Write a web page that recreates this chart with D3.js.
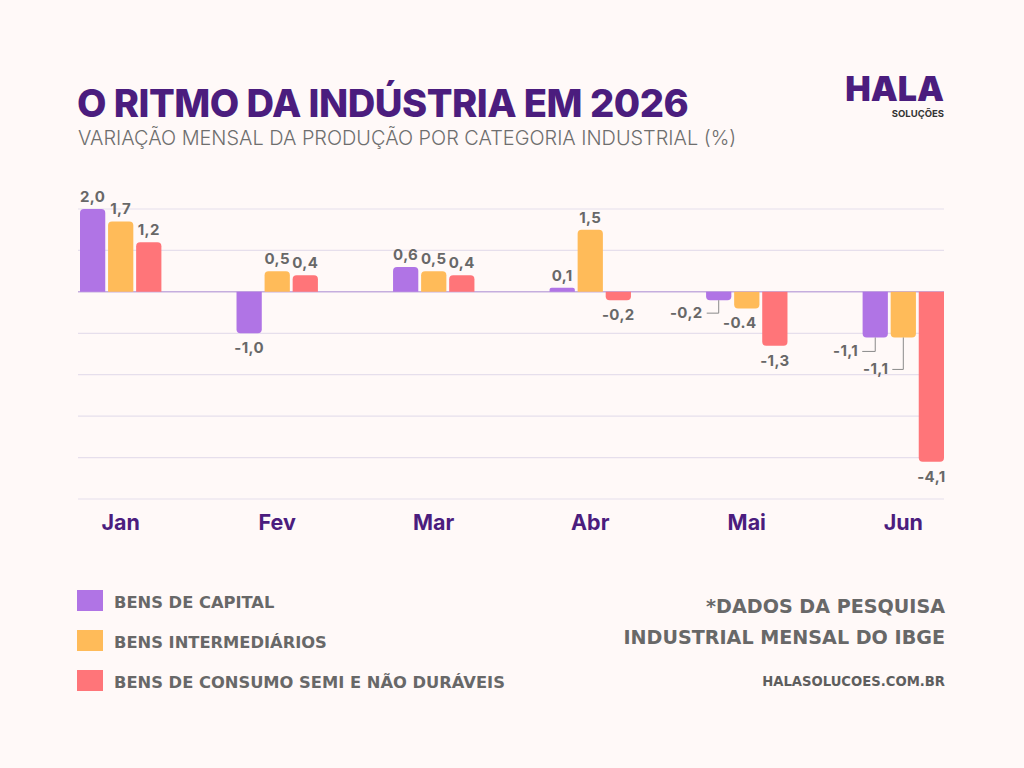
<!DOCTYPE html>
<html>
<head>
<meta charset="utf-8">
<script src="https://cdn.jsdelivr.net/npm/d3@7"></script>
<style>
  html, body { margin: 0; padding: 0; background: #fff9f8; }
  svg { display: block; }
</style>
</head>
<body>
<svg width="1024" height="768"></svg>
<script>
// data
const months = ['Jan', 'Fev', 'Mar', 'Abr', 'Mai', 'Jun'];
const seriesNames = ['BENS DE CAPITAL', 'BENS INTERMEDIÁRIOS', 'BENS DE CONSUMO SEMI E NÃO DURÁVEIS'];
const capital = [2.0, -1.0, 0.6, 0.1, -0.2, -1.1];
const intermediarios = [1.7, 0.5, 0.5, 1.5, -0.4, -1.1];
const consumo = [1.2, 0.4, 0.4, -0.2, -1.3, -4.1];
const capitalLabels = ['2,0', '-1,0', '0,6', '0,1', '-0,2', '-1,1'];
const intermediariosLabels = ['1,7', '0,5', '0,5', '1,5', '-0.4', '-1,1'];
const consumoLabels = ['1,2', '0,4', '0,4', '-0,2', '-1,3', '-4,1'];
const gridTicks = [2, 1, 0, -1, -2, -3, -4, -5];

const colors = ['#b074e5', '#ffbb59', '#ff7579'];
const purpleDark = '#4b1d7e';
const grey = '#686868';

const series = [capital, intermediarios, consumo];
const seriesLabels = [capitalLabels, intermediariosLabels, consumoLabels];

// labels that are pulled out with a small elbow line
const callouts = {
  'Mai-0': { drop: 13, arm: 12 },
  'Jun-0': { drop: 14, arm: 13 },
  'Jun-1': { drop: 32, arm: 11 }
};
const nudges = { 'Mai-1': -7 };

const svg = d3.select('svg');
const wideFont = "'DejaVu Sans', Verdana, sans-serif";

svg.append('rect').attr('width', 1024).attr('height', 768).attr('fill', '#fff9f8');

// scale font size so the text spans a given width
const fitWidth = (sel, w) => {
  const fs = parseFloat(sel.attr('font-size'));
  const len = sel.node().getComputedTextLength();
  sel.attr('font-size', fs * w / len);
  return fs * w / len;
};

// header
const title = svg.append('text')
  .attr('x', 77).attr('y', 117)
  .attr('font-family', "Inter, 'Open Sans', sans-serif")
  .attr('font-weight', 800)
  .attr('font-size', 40)
  .attr('letter-spacing', -0.5)
  .attr('fill', purpleDark)
  .text('O RITMO DA INDÚSTRIA EM 2026');
fitWidth(title, 612);

const subtitle = svg.append('text')
  .attr('x', 78).attr('y', 145)
  .attr('font-family', "Inter, 'Open Sans', sans-serif")
  .attr('font-weight', 300)
  .attr('font-size', 20)
  .attr('fill', '#6e6e6e')
  .text('VARIAÇÃO MENSAL DA PRODUÇÃO POR CATEGORIA INDUSTRIAL (%)');
fitWidth(subtitle, 659);

// logo
svg.append('text')
  .attr('x', 944).attr('y', 101)
  .attr('text-anchor', 'end')
  .attr('font-family', "Inter, sans-serif")
  .attr('font-weight', 900)
  .attr('font-size', 34)
  .attr('fill', purpleDark)
  .text('HALA');
svg.append('text')
  .attr('x', 944).attr('y', 117)
  .attr('text-anchor', 'end')
  .attr('font-family', "Inter, sans-serif")
  .attr('font-weight', 700)
  .attr('font-size', 9.5)
  .attr('fill', '#333')
  .text('SOLUÇÕES');

// chart
const xScale = d3.scaleBand().domain(months).range([80, 944]).paddingInner(0.48).paddingOuter(0);
const xInner = d3.scaleBand().domain(d3.range(3)).range([0, xScale.bandwidth()]).paddingInner(0.1);
const yScale = d3.scaleLinear().domain([-5, 2]).range([499, 209]);

const grid = svg.append('g').attr('class', 'grid');
grid.selectAll('line')
  .data(gridTicks.filter(d => d !== 0))
  .join('line')
  .attr('x1', 78).attr('x2', 944)
  .attr('y1', d => yScale(d)).attr('y2', d => yScale(d))
  .attr('stroke', '#e6dfec')
  .attr('stroke-width', 1.2);

grid.append('line')
  .attr('x1', 78).attr('x2', 944)
  .attr('y1', yScale(0)).attr('y2', yScale(0))
  .attr('stroke', '#c5aede')
  .attr('stroke-width', 1.5);

// rounded end only on the far side of the bar
const barPath = (x, w, y0, y1) => {
  const h = Math.abs(y1 - y0);
  const r = Math.min(4, h / 2, w / 2);
  if (y1 < y0) {
    return `M${x},${y0}V${y1 + r}Q${x},${y1} ${x + r},${y1}H${x + w - r}Q${x + w},${y1} ${x + w},${y1 + r}V${y0}Z`;
  }
  return `M${x},${y0}V${y1 - r}Q${x},${y1} ${x + r},${y1}H${x + w - r}Q${x + w},${y1} ${x + w},${y1 - r}V${y0}Z`;
};

const cells = [];
months.forEach((m, i) => {
  series.forEach((s, j) => {
    cells.push({ month: m, idx: i, k: j, value: s[i], label: seriesLabels[j][i] });
  });
});

const barsG = svg.append('g').attr('class', 'bars');
barsG.selectAll('path')
  .data(cells)
  .join('path')
  .attr('d', d => barPath(xScale(d.month) + xInner(d.k), xInner.bandwidth(), yScale(0), yScale(d.value)))
  .attr('fill', d => colors[d.k]);

const labelsG = svg.append('g').attr('class', 'value-labels')
  .attr('font-family', "Inter, 'Open Sans', sans-serif")
  .attr('font-weight', 700)
  .attr('font-size', 15)
  .attr('letter-spacing', 0.4)
  .attr('fill', grey);

cells.forEach(d => {
  const key = `${d.month}-${d.k}`;
  const cx = xScale(d.month) + xInner(d.k) + xInner.bandwidth() / 2;
  const yEnd = yScale(d.value);
  const c = callouts[key];
  if (c) {
    const elbowY = yEnd + c.drop;
    labelsG.append('path')
      .attr('d', `M${cx},${yEnd}V${elbowY}H${cx - c.arm}`)
      .attr('fill', 'none')
      .attr('stroke', '#8a8a8a')
      .attr('stroke-width', 1);
    labelsG.append('text')
      .attr('x', cx - c.arm - 4)
      .attr('y', elbowY + 5)
      .attr('text-anchor', 'end')
      .text(d.label);
  } else {
    labelsG.append('text')
      .attr('x', cx + (nudges[key] || 0))
      .attr('y', d.value >= 0 ? yEnd - 7 : yEnd + 20)
      .attr('text-anchor', 'middle')
      .text(d.label);
  }
});

// month axis
svg.append('g').attr('class', 'x-axis')
  .selectAll('text')
  .data(months)
  .join('text')
  .attr('x', d => xScale(d) + xScale.bandwidth() / 2)
  .attr('y', 530)
  .attr('text-anchor', 'middle')
  .attr('font-family', "Inter, 'Open Sans', sans-serif")
  .attr('font-weight', 700)
  .attr('font-size', 21.5)
  .attr('fill', purpleDark)
  .text(d => d);

// legend
const legend = svg.append('g').attr('class', 'legend');
const legendItems = legend.selectAll('g')
  .data(seriesNames)
  .join('g')
  .attr('transform', (d, i) => `translate(77, ${590 + i * 40})`);
legendItems.append('rect')
  .attr('width', 26).attr('height', 21)
  .attr('fill', (d, i) => colors[i]);
const legendTexts = legendItems.append('text')
  .attr('x', 37).attr('y', 17.5)
  .attr('font-family', wideFont)
  .attr('font-weight', 700)
  .attr('font-size', 16)
  .attr('fill', grey)
  .text(d => d);
const legendSize = fitWidth(legendTexts.filter((d, i) => i === 2), 391);
legendTexts.attr('font-size', legendSize);

// source note
const note2 = svg.append('text')
  .attr('x', 945).attr('y', 644)
  .attr('text-anchor', 'end')
  .attr('font-family', wideFont)
  .attr('font-weight', 700)
  .attr('font-size', 18)
  .attr('fill', grey)
  .text('INDUSTRIAL MENSAL DO IBGE');
const noteSize = fitWidth(note2, 322);
svg.append('text')
  .attr('x', 945).attr('y', 613)
  .attr('text-anchor', 'end')
  .attr('font-family', wideFont)
  .attr('font-weight', 700)
  .attr('font-size', noteSize)
  .attr('fill', grey)
  .text('*DADOS DA PESQUISA');
const site = svg.append('text')
  .attr('x', 945).attr('y', 686)
  .attr('text-anchor', 'end')
  .attr('font-family', wideFont)
  .attr('font-weight', 700)
  .attr('font-size', 14)
  .attr('fill', '#5e5e5e')
  .text('HALASOLUCOES.COM.BR');
fitWidth(site, 183);
</script>
</body>
</html>
